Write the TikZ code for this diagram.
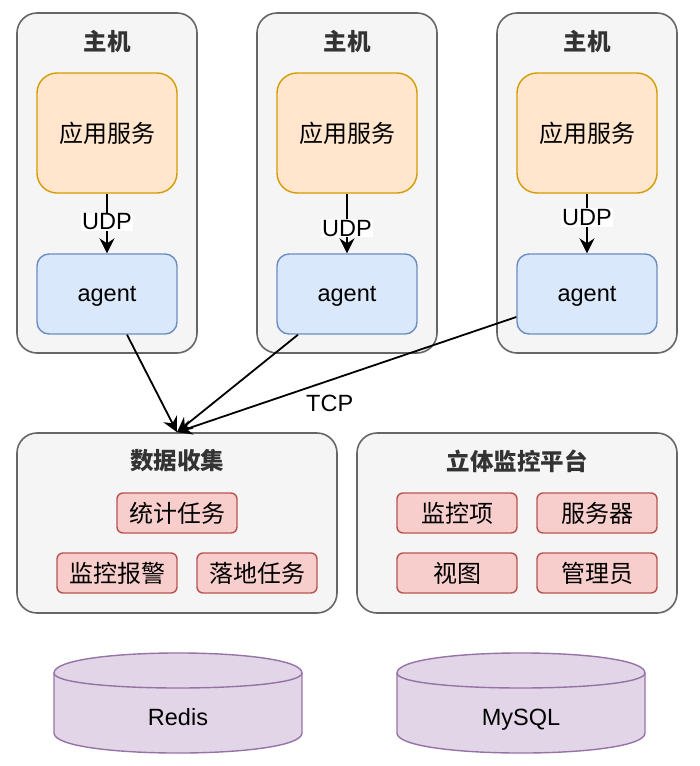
\documentclass[tikz,border=0pt]{standalone}
\usepackage{fontspec}
\setmainfont{Liberation Sans}
\newfontfamily\cjk{Noto Sans CJK SC}
\usepackage{xcolor}
\usepackage{tikz}
\usetikzlibrary{positioning, arrows.meta}

\definecolor{hostfill}{HTML}{F5F5F5}
\definecolor{hostline}{HTML}{666666}
\definecolor{titletext}{HTML}{333333}
\definecolor{appfill}{HTML}{FFE6CC}
\definecolor{appline}{HTML}{D79B00}
\definecolor{agentfill}{HTML}{DAE8FC}
\definecolor{agentline}{HTML}{6C8EBF}
\definecolor{taskfill}{HTML}{F8CECC}
\definecolor{taskline}{HTML}{B85450}
\definecolor{dbfill}{HTML}{E1D5E7}
\definecolor{dbline}{HTML}{9673A6}

\begin{document}
\begin{tikzpicture}[
    x=1pt, y=-1pt,
    host/.style={draw=hostline, fill=hostfill, line width=1.6pt, rounded corners=20pt, minimum width=180pt, minimum height=340pt},
    group/.style={host, minimum width=320pt, minimum height=180pt},
    title/.style={text=titletext, font={\cjk\bfseries\fontsize{23.5}{28}\selectfont}},
    app/.style={draw=appline, fill=appfill, line width=1.4pt, rounded corners=20pt, minimum width=140pt, minimum height=120pt, font={\cjk\fontsize{24}{28}\selectfont}},
    agent/.style={draw=agentline, fill=agentfill, line width=1.4pt, rounded corners=12pt, minimum width=140pt, minimum height=80pt, text depth=0pt, font=\fontsize{23.5}{28}\selectfont},
    task/.style={draw=taskline, fill=taskfill, line width=1.4pt, rounded corners=6pt, minimum width=120pt, minimum height=40pt, font={\cjk\fontsize{24}{28}\selectfont}},
    db/.style={draw=dbline, fill=dbfill, line width=1.4pt},
    dbtext/.style={text depth=0pt, font=\fontsize{23.5}{28}\selectfont},
    lbl/.style={fill=white, inner sep=1pt, font=\fontsize{23.5}{28}\selectfont},
    arr/.style={-{Stealth[length=15pt, width=15pt, inset=5pt]}, line width=1.8pt},
]
\useasboundingbox (0,0) rectangle (700,766);

% --- hosts ---
\node[host] (H1) at (107, 183) {};
\node[host] (H2) at (347, 183) {};
\node[host] (H3) at (587, 183) {};
\node[title] (T1) at (107, 42) {主机};
\node[title] (T2) at (347, 42) {主机};
\node[title] (T3) at (587, 42) {主机};

% application services
\node[app] (A1) at (107, 133) {应用服务};
\node[app] (A2) at (347, 133) {应用服务};
\node[app] (A3) at (587, 133) {应用服务};

% agents
\node[agent] (G1) at (107, 294) {agent};
\node[agent] (G2) at (347, 294) {agent};
\node[agent] (G3) at (587, 294) {agent};

% app -> agent
\draw[arr] (A1) -- node[lbl, pos=0.47] {UDP} (G1);
\draw[arr] (A2) -- node[lbl, pos=0.58] {UDP} (G2);
\draw[arr] (A3) -- node[lbl, pos=0.40] {UDP} (G3);

% --- data collection ---
\node[group] (D) at (177, 523) {};
\node[title] (DT) at (177, 461) {数据收集};
\node[task] (D1) at (177, 513) {统计任务};
\node[task] (D2) at (117, 573) {监控报警};
\node[task] (D3) at (257, 573) {落地任务};

% --- monitoring platform ---
\node[group] (P) at (517, 523) {};
\node[title] (PT) at (517, 461) {立体监控平台};
\node[task] (P1) at (457, 513) {监控项};
\node[task] (P2) at (597, 513) {服务器};
\node[task] (P3) at (457, 573) {视图};
\node[task] (P4) at (597, 573) {管理员};

% agent -> data collection
\draw[arr] ([xshift=20pt]G1.south) -- (D.north);
\draw[arr] ([xshift=-49pt]G2.south) -- (D.north);
\draw[arr] ([yshift=-23pt]G3.west) -- node[pos=0.55, below=14pt, inner sep=0pt, font=\fontsize{23.5}{28}\selectfont] (tcp) {TCP} (D.north);

% --- storage ---
\draw[db] (54,673) .. controls (54,646.3) and (302,646.3) .. (302,673) -- (302,733)
    .. controls (302,759.7) and (54,759.7) .. (54,733) -- cycle;
\draw[db, fill=none] (54,673) .. controls (54,693) and (302,693) .. (302,673);
\node[dbtext] (redis) at (178, 717) {Redis};

\draw[db] (397,673) .. controls (397,646.3) and (645,646.3) .. (645,673) -- (645,733)
    .. controls (645,759.7) and (397,759.7) .. (397,733) -- cycle;
\draw[db, fill=none] (397,673) .. controls (397,693) and (645,693) .. (645,673);
\node[dbtext] (mysql) at (521, 717) {MySQL};

\end{tikzpicture}
\end{document}
